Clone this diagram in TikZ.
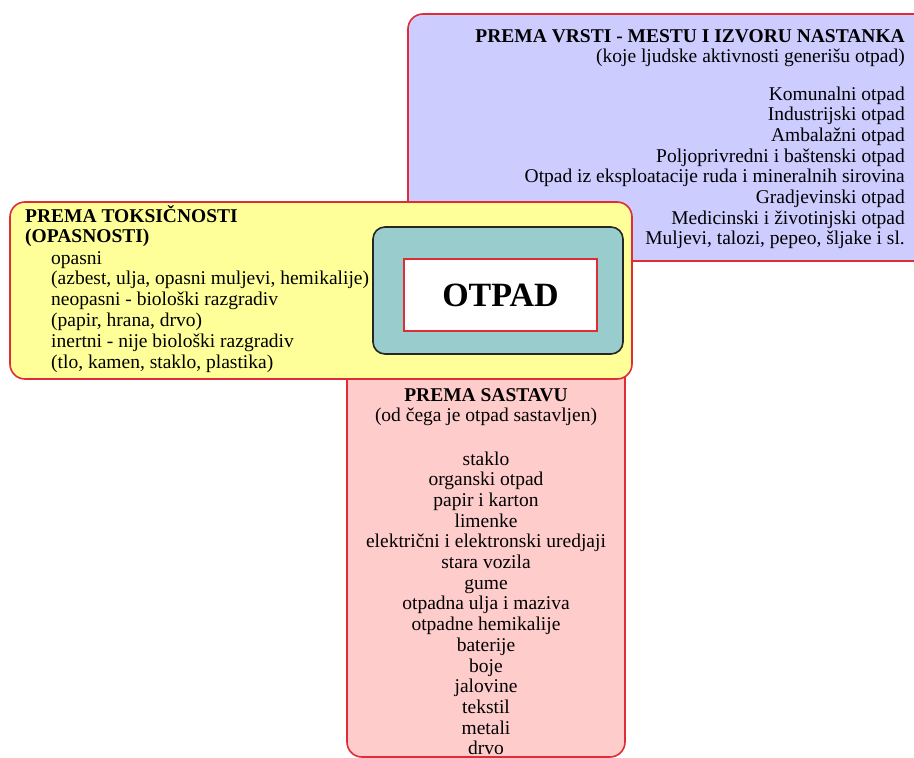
\documentclass[tikz,border=0pt]{standalone}
\usepackage{fontspec}
\setmainfont{Liberation Serif}
\definecolor{boxred}{RGB}{222,45,55}
\definecolor{vrstiblue}{RGB}{204,204,255}
\definecolor{toksyellow}{RGB}{255,255,153}
\definecolor{sastavpink}{RGB}{255,204,204}
\definecolor{otpadteal}{RGB}{153,204,204}
\tikzset{
  kutija/.style={draw=boxred, line width=1.6pt, rounded corners=15pt},
  tekst/.style={inner sep=0pt, font=\fontsize{19.5}{20.7}\selectfont},
  naslov/.style={tekst, font=\fontsize{19.5}{20.7}\selectfont\bfseries}
}
\begin{document}
\begin{tikzpicture}[x=1pt,y=-1pt]
  \useasboundingbox (0,0) rectangle (914,758);

  % blue, pink and yellow panels
  \draw[kutija, fill=vrstiblue] (408,14) rectangle (930,261);
  \draw[kutija, fill=sastavpink] (347,330) rectangle (625,757);
  \draw[kutija, fill=toksyellow] (10,202) rectangle (632,379);
  \draw[fill=otpadteal, draw=black!85, line width=1.6pt, rounded corners=12pt]
    (373,227) rectangle (623,354);
  \draw[fill=white, draw=boxred, line width=1.4pt] (404,259) rectangle (597,331);
  \node[inner sep=0pt, font=\fontsize{34}{36}\selectfont\bfseries]
    (otpad) at (500.5,295) {OTPAD};

  % prema vrsti
  \node[naslov, anchor=base east] (vrsti) at (905,42)
    {PREMA VRSTI - MESTU I IZVORU NASTANKA};
  \node[tekst, anchor=base east] (vrstiopis) at (905,62)
    {(koje ljudske aktivnosti generišu otpad)};
  \foreach \Item [count=\i] in {Komunalni otpad, Industrijski otpad,
    Ambalažni otpad, Poljoprivredni i baštenski otpad,
    Otpad iz eksploatacije ruda i mineralnih sirovina, Gradjevinski otpad,
    Medicinski i životinjski otpad, {Muljevi, talozi, pepeo, šljake i sl.}}{
    \node[tekst, anchor=base east] (v\i) at (905,100+20.7*\i-20.7) {\Item};
  }

  % prema toksicnosti
  \node[naslov, anchor=base west] (toks) at (25,222) {PREMA TOKSIČNOSTI};
  \node[naslov, anchor=base west] (toksopis) at (25,242) {(OPASNOSTI)};
  \foreach \Item [count=\i] in {opasni,
    {(azbest, ulja, opasni muljevi, hemikalije)},
    neopasni - biološki razgradiv, {(papir, hrana, drvo)},
    inertni - nije biološki razgradiv, {(tlo, kamen, staklo, plastika)}}{
    \node[tekst, anchor=base west] (t\i) at (51,264+20.8*\i-20.8) {\Item};
  }

  % prema sastavu
  \node[naslov, anchor=base] (sastav) at (486,401) {PREMA SASTAVU};
  \node[tekst, anchor=base] (sastavopis) at (486,421)
    {(od čega je otpad sastavljen)};
  \foreach \Item [count=\i] in {staklo, organski otpad, papir i karton,
    limenke, električni i elektronski uredjaji, stara vozila, gume,
    otpadna ulja i maziva, otpadne hemikalije, baterije, boje, jalovine,
    tekstil, metali, drvo}{
    \node[tekst, anchor=base] (s\i) at (486,465+20.7*\i-20.7) {\Item};
  }

\end{tikzpicture}
\end{document}
